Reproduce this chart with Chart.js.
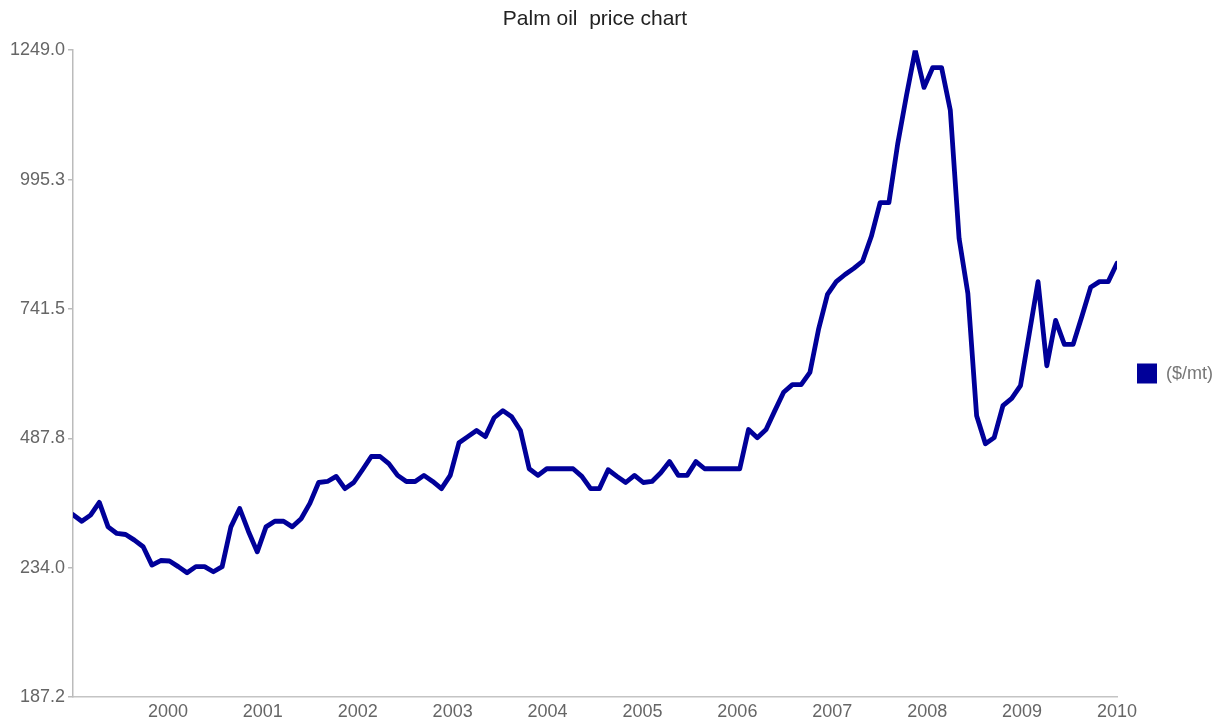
<!DOCTYPE html>
<html>
<head>
<meta charset="utf-8">
<script src="https://cdn.jsdelivr.net/npm/chart.js@4.4.1/dist/chart.umd.min.js"></script>
<style>
html,body{margin:0;padding:0;background:#fff;}
#wrap{width:1228px;height:723px;}
</style>
</head>
<body>
<div id="wrap"><canvas id="c" width="1228" height="723"></canvas></div>
<script>
const chartTitle = 'Palm oil  price chart';
const seriesName = '($/mt)';

// monthly palm oil prices, 120 months
const prices = [
  338, 325, 337, 362, 314, 301, 299, 288, 275, 239,
  248, 247, 236, 224, 236, 236, 226, 236, 314, 350,
  305, 265, 314, 325, 325, 314, 330, 360, 401, 403,
  413, 389, 401, 426, 452, 452, 438, 415, 403, 403,
  415, 403, 389, 415, 479, 491, 503, 491, 528, 542,
  530, 503, 428, 415, 428, 428, 428, 428, 413, 389,
  389, 426, 413, 401, 415, 401, 403, 420, 442, 415,
  415, 442, 428, 428, 428, 428, 428, 505, 489, 505,
  542, 578, 593, 593, 617, 703, 770, 795, 809, 821,
  835, 884, 950, 950, 1065, 1160, 1249, 1176, 1215, 1215,
  1131, 880, 772, 532, 477, 489, 552, 566, 591, 693,
  795, 630, 719, 672, 672, 727, 784, 795, 795, 831
];

const yearLabels = ['2000','2001','2002','2003','2004','2005','2006','2007','2008','2009','2010'];
const yTickValues = [-19.75, 234.0, 487.75, 741.5, 995.25, 1249.0];
const yTickLabels = ['187.2','234.0','487.8','741.5','995.3','1249.0'];

Chart.defaults.font.family = "'Liberation Sans', Arial, Helvetica, sans-serif";

const points = prices.map((v, i) => ({x: i, y: v}));

new Chart(document.getElementById('c'), {
  type: 'line',
  data: {
    datasets: [{
      label: seriesName,
      data: points,
      borderColor: '#000099',
      backgroundColor: '#000099',
      borderWidth: 4.8,
      borderJoinStyle: 'round',
      borderCapStyle: 'round',
      pointRadius: 0,
      pointHoverRadius: 0,
      tension: 0,
      fill: false
    }]
  },
  options: {
    responsive: false,
    devicePixelRatio: 1,
    animation: false,
    layout: {padding: {left: 0, right: 5, top: 0, bottom: 0}},
    plugins: {
      tooltip: {enabled: false},
      title: {
        display: true,
        text: chartTitle,
        color: '#222',
        fullSize: false,
        font: {size: 21, weight: 'normal'},
        padding: {top: 7, bottom: 18}
      },
      legend: {
        position: 'right',
        align: 'center',
        fullSize: false,
        labels: {
          boxWidth: 20,
          boxHeight: 20,
          padding: 20,
          color: '#777',
          font: {size: 18},
          generateLabels(chart) {
            const items = Chart.defaults.plugins.legend.labels.generateLabels(chart);
            items.forEach(it => { it.lineWidth = 0; it.fillStyle = '#000099'; });
            return items;
          }
        }
      }
    },
    scales: {
      x: {
        type: 'linear',
        min: 0,
        max: prices.length - 1,
        grid: {display: false, drawTicks: false, tickLength: 0},
        border: {display: true, color: '#c4c4c4', width: 1.5},
        ticks: {
          autoSkip: false,
          maxRotation: 0,
          padding: 4,
          color: '#666',
          font: {size: 18},
          callback: (v, i) => yearLabels[i]
        },
        afterBuildTicks: s => {
          s.ticks = yearLabels.map((l, k) => ({value: (k + 1) * (prices.length - 1) / yearLabels.length}));
        },
        afterFit: s => { s.height = 26; }
      },
      y: {
        min: yTickValues[0],
        max: yTickValues[yTickValues.length - 1],
        grid: {drawOnChartArea: false, drawTicks: true, tickLength: 5, color: '#bbb', lineWidth: 1.5},
        border: {display: true, color: '#bbb', width: 1.5},
        ticks: {
          padding: 3,
          color: '#666',
          font: {size: 18},
          callback: (v, i) => yTickLabels[i]
        },
        afterBuildTicks: s => {
          s.ticks = yTickValues.map(v => ({value: v}));
        },
        afterFit: s => { s.width = 73; }
      }
    }
  }
});
</script>
</body>
</html>
